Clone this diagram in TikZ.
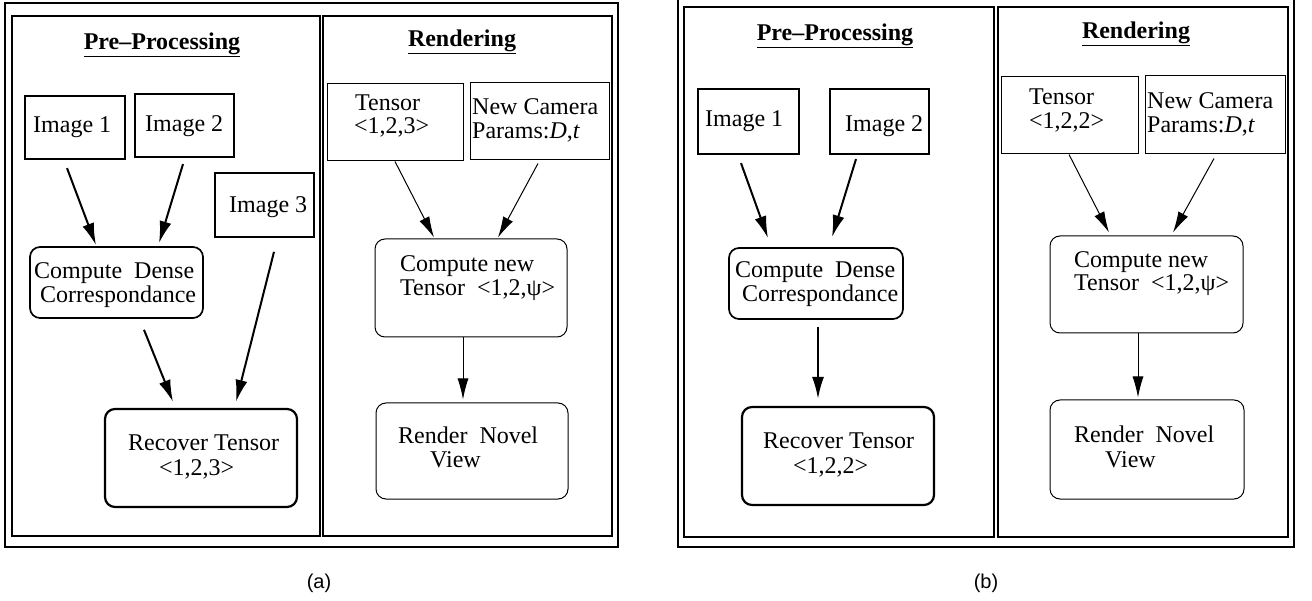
\documentclass[tikz,border=0pt]{standalone}
\usepackage{fontspec}
\setmainfont{Liberation Serif}
\newfontfamily\capfont{Liberation Sans}
\usetikzlibrary{arrows.meta,fit}
\tikzset{
  frame/.style={draw, line width=2pt, inner sep=0pt},
  thickbox/.style={draw, line width=2.2pt, inner sep=0pt},
  midbox/.style={draw, line width=1.7pt, inner sep=0pt},
  thinbox/.style={draw, line width=1pt, inner sep=0pt},
  rbox/.style={rounded corners=10pt},
  txt/.style={inner sep=0pt, anchor=west, text height=16pt, text depth=5pt, font=\fontsize{24}{24}\selectfont},
  ttl/.style={inner sep=0pt, font=\fontsize{24}{24}\selectfont\bfseries},
  captxt/.style={inner sep=0pt, font=\fontsize{20}{20}\capfont},
  parr/.style={line width=2pt, -{Latex[length=22pt,width=12pt]}},
  rarr/.style={line width=1pt, -{Latex[length=21pt,width=11pt]}}
}
\begin{document}
\begin{tikzpicture}[x=1pt,y=-1pt]
\useasboundingbox (0,0) rectangle (1312,601);
% ---------------- panel (a) ----------------
\node[frame, fit={(5,3)(618,547)}] (aout) {};
\node[frame, fit={(12,16)(320,536)}] (aleft) {};
\node[frame, fit={(323,16)(612,536)}] (aright) {};
\node[ttl] (apre) at (162,45) {\underline{Pre--Processing}};
\node[ttl] (aren) at (462,42) {\underline{Rendering}};
% boxes
\node[thickbox, fit={(25,96)(125,159)}] (aim1) {};
\node[thickbox, fit={(135,94)(234,157)}] (aim2) {};
\node[midbox, fit={(215,173)(314,237)}] (aim3) {};
\node[midbox, rbox, fit={(30,247)(203,318)}] (acdc) {};
\node[thickbox, rbox, fit={(105,409)(297,507)}] (arec) {};
\node[thinbox, fit={(327,84)(463,161)}] (aten) {};
\node[thinbox, fit={(470,83)(609,160)}] (acam) {};
\node[thinbox, rbox, fit={(375,239)(567,337)}] (acnt) {};
\node[thinbox, rbox, fit={(376,403)(568,499)}] (aview) {};
% texts
\node[txt] (aim1t) at (33,127) {Image 1};
\node[txt] (aim2t) at (145,126) {Image 2};
\node[txt] (aim3t) at (229,207) {Image 3};
\node[txt] (acdct1) at (34,273) {Compute~~Dense};
\node[txt] (acdct2) at (40,297) {Correspondance};
\node[txt] (arect1) at (128,445) {Recover Tensor};
\node[txt] (arect2) at (159,470) {<1,2,3>};
\node[txt] (atent1) at (355,105) {Tensor};
\node[txt] (atent2) at (354,128) {<1,2,3>};
\node[txt] (acamt1) at (472,109) {New Camera};
\node[txt] (acamt2) at (472,133) {Params:\textit{D},\textit{t}};
\node[txt] (acntt1) at (400,266) {Compute new};
\node[txt] (acntt2) at (400,290) {Tensor~~<1,2,ψ>};
\node[txt] (aviewt1) at (398,438) {Render~~Novel};
\node[txt] (aviewt2) at (430,462) {View};
\node[captxt] (acap) at (319,583) {(a)};
% arrows
\draw[parr] ([xshift=-8pt,yshift=-8pt]aim1.south) -- ([xshift=-20.5pt,yshift=1pt]acdc.north);
\draw[parr] ([xshift=-1.5pt,yshift=-6pt]aim2.south) -- ([xshift=42.5pt,yshift=3pt]acdc.north);
\draw[parr] ([xshift=9.5pt,yshift=-14pt]aim3.south) -- ([xshift=35pt,yshift=6pt]arec.north);
\draw[parr] ([xshift=27.5pt,yshift=-11pt]acdc.south) -- ([xshift=-28pt,yshift=6pt]arec.north);
\draw[rarr] (aten.south) -- ([xshift=-37pt,yshift=1pt]acnt.north);
\draw[rarr] ([xshift=-1.5pt,yshift=-3pt]acam.south) -- ([xshift=27pt,yshift=1pt]acnt.north);
\draw[rarr] ([xshift=-8pt]acnt.south) -- ([xshift=-9pt,yshift=3pt]aview.north);
% ---------------- panel (b) ----------------
\node[frame, fit={(678,-2)(1294,547)}] (bout) {};
\node[frame, fit={(684,7)(994,537)}] (bleft) {};
\node[frame, fit={(998,7)(1288,537)}] (bright) {};
\node[ttl] (bpre) at (835,36) {\underline{Pre--Processing}};
\node[ttl] (bren) at (1136,34) {\underline{Rendering}};
% boxes
\node[thickbox, fit={(698,89)(799,154)}] (bim1) {};
\node[thickbox, fit={(830,89)(929,154)}] (bim2) {};
\node[midbox, rbox, fit={(729,248)(903,319)}] (bcdc) {};
\node[thickbox, rbox, fit={(742,407)(934,505)}] (brec) {};
\node[thinbox, fit={(1001,77)(1138,154)}] (bten) {};
\node[thinbox, fit={(1145,76)(1285,154)}] (bcam) {};
\node[thinbox, rbox, fit={(1050,236)(1243,333)}] (bcnt) {};
\node[thinbox, rbox, fit={(1050,400)(1244,499)}] (bview) {};
% texts
\node[txt] (bim1t) at (705,121) {Image 1};
\node[txt] (bim2t) at (845,126) {Image 2};
\node[txt] (bcdct1) at (735,272) {Compute~~Dense};
\node[txt] (bcdct2) at (742,296) {Correspondance};
\node[txt] (brect1) at (763,443) {Recover Tensor};
\node[txt] (brect2) at (793,468) {<1,2,2>};
\node[txt] (btent1) at (1029,99) {Tensor};
\node[txt] (btent2) at (1029,123) {<1,2,2>};
\node[txt] (bcamt1) at (1147,103) {New Camera};
\node[txt] (bcamt2) at (1147,127) {Params:\textit{D},\textit{t}};
\node[txt] (bcntt1) at (1074,262) {Compute new};
\node[txt] (bcntt2) at (1074,285) {Tensor~~<1,2,ψ>};
\node[txt] (bviewt1) at (1074,437) {Render~~Novel};
\node[txt] (bviewt2) at (1105,462) {View};
\node[captxt] (bcap) at (986,583) {(b)};
% arrows
\draw[parr] ([xshift=-7.5pt,yshift=-8pt]bim1.south) -- ([xshift=-48pt,yshift=9pt]bcdc.north);
\draw[parr] ([xshift=-23.5pt,yshift=-4pt]bim2.south) -- ([xshift=16pt,yshift=10pt]bcdc.north);
\draw[parr] ([xshift=2pt,yshift=-7pt]bcdc.south) -- ([xshift=-20pt,yshift=7pt]brec.north);
\draw[rarr] ([xshift=-0.5pt]bten.south) -- ([xshift=-37.5pt,yshift=3pt]bcnt.north);
\draw[rarr] ([xshift=-1pt,yshift=-4pt]bcam.south) -- ([xshift=26.5pt,yshift=3pt]bcnt.north);
\draw[rarr] ([xshift=-8.5pt]bcnt.south) -- ([xshift=-9pt,yshift=2pt]bview.north);
\end{tikzpicture}
\end{document}
